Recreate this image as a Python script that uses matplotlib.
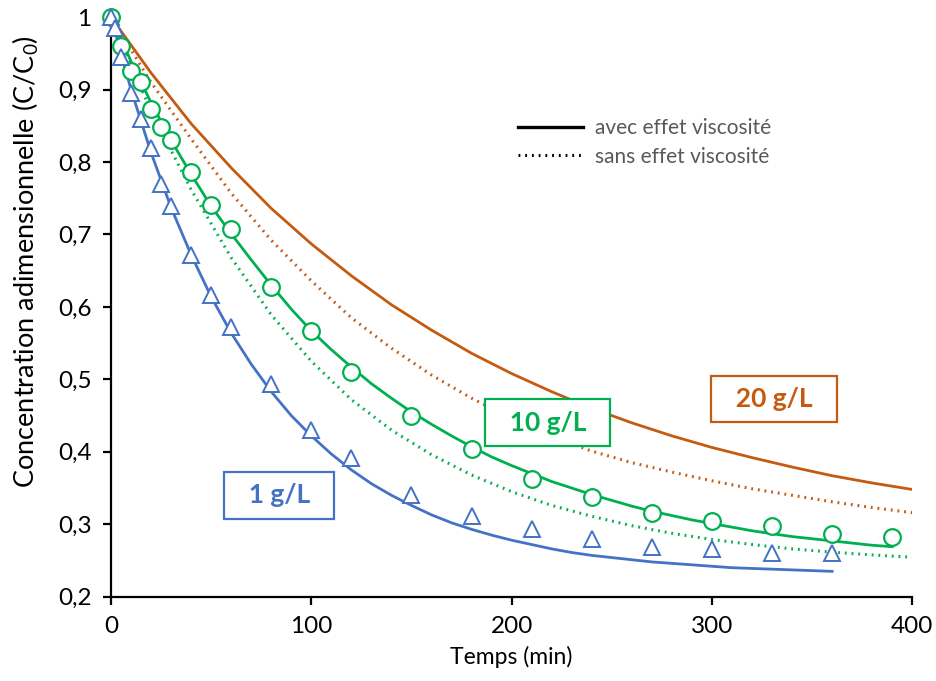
import matplotlib.pyplot as plt
from matplotlib.lines import Line2D
from matplotlib.ticker import FuncFormatter

plt.rcParams['font.family'] = ['Lato', 'DejaVu Sans']

# experimental points
t_1g = [0, 2, 5, 10, 15, 20, 25, 30, 40, 50, 60, 80, 100, 120, 150, 180, 210, 240, 270, 300, 330, 360]
c_1g = [1.0, 0.985, 0.945, 0.895, 0.86, 0.82, 0.77, 0.74, 0.672, 0.616, 0.572, 0.493, 0.43, 0.392,
        0.34, 0.312, 0.294, 0.28, 0.269, 0.266, 0.26, 0.26]
t_10g = [0, 5, 10, 15, 20, 25, 30, 40, 50, 60, 80, 100, 120, 150, 180, 210, 240, 270, 300, 330, 360, 390]
c_10g = [1.0, 0.96, 0.925, 0.91, 0.873, 0.848, 0.83, 0.786, 0.741, 0.707, 0.628, 0.567, 0.51,
         0.449, 0.404, 0.363, 0.338, 0.316, 0.304, 0.297, 0.287, 0.283]

# model curves (avec effet viscosite)
t_m1 = list(range(0, 370, 10))
c_m1 = [1.000, 0.900, 0.813, 0.737, 0.672, 0.614, 0.564, 0.521, 0.483, 0.450, 0.422, 0.397, 0.375,
        0.356, 0.340, 0.326, 0.313, 0.302, 0.293, 0.285, 0.278, 0.272, 0.266, 0.261, 0.257, 0.254,
        0.251, 0.248, 0.246, 0.244, 0.242, 0.240, 0.239, 0.238, 0.237, 0.236, 0.235]
t_m10 = list(range(0, 400, 10))
c_m10 = [1.000, 0.939, 0.882, 0.830, 0.783, 0.739, 0.701, 0.665, 0.630, 0.597, 0.567, 0.541, 0.517,
         0.494, 0.474, 0.455, 0.438, 0.422, 0.407, 0.393, 0.381, 0.370, 0.359, 0.350, 0.341, 0.333,
         0.325, 0.318, 0.312, 0.306, 0.301, 0.296, 0.291, 0.287, 0.283, 0.280, 0.277, 0.274, 0.271,
         0.269]
t_m20 = list(range(0, 420, 20))
c_m20 = [1.000, 0.923, 0.853, 0.792, 0.736, 0.687, 0.643, 0.603, 0.568, 0.536, 0.508, 0.483, 0.460,
         0.440, 0.422, 0.406, 0.392, 0.379, 0.367, 0.357, 0.348]

# model curves (sans effet viscosite)
t_s = list(range(0, 420, 20))
c_s10 = [1.000, 0.870, 0.762, 0.668, 0.589, 0.525, 0.472, 0.430, 0.396, 0.368, 0.345, 0.326, 0.311,
         0.298, 0.2875, 0.279, 0.272, 0.266, 0.2615, 0.2576, 0.2545]
c_s20 = [1.000, 0.910, 0.832, 0.757, 0.692, 0.636, 0.585, 0.543, 0.506, 0.474, 0.446, 0.421, 0.401,
         0.385, 0.372, 0.360, 0.349, 0.340, 0.331, 0.323, 0.316]

blue = '#4472C4'
green = '#00B050'
orange = '#C55A11'
dots = (0, (0.6, 1.6))

fig = plt.figure(figsize=(9.36, 6.81), dpi=100)
ax = fig.add_axes([0.1186, 0.1238, 0.856, 0.851])

ax.plot(t_s, c_s20, color=orange, lw=2.2, linestyle=dots, dash_capstyle='butt')
ax.plot(t_s, c_s10, color=green, lw=2.2, linestyle=dots, dash_capstyle='butt')
ax.plot(t_m20, c_m20, color=orange, lw=2.0)
ax.plot(t_m10, c_m10, color=green, lw=2.0)
ax.plot(t_m1, c_m1, color=blue, lw=2.0)

ax.plot(t_10g, c_10g, 'o', ms=12, mfc='white', mec=green, mew=1.6, clip_on=False, zorder=5)
ax.plot(t_1g, c_1g, '^', ms=11, mfc='white', mec=blue, mew=1.4, clip_on=False, zorder=6)

ax.set_xlim(0, 400)
ax.set_ylim(0.2, 1.0)
ax.set_xticks([0, 100, 200, 300, 400])
ax.set_yticks([0.2, 0.3, 0.4, 0.5, 0.6, 0.7, 0.8, 0.9, 1.0])
ax.yaxis.set_major_formatter(FuncFormatter(lambda v, p: '1' if abs(v - 1) < 1e-9 else ('%.1f' % v).replace('.', ',')))
for s in ['top', 'right']:
    ax.spines[s].set_visible(False)
for s in ['left', 'bottom']:
    ax.spines[s].set_linewidth(1.6)
ax.tick_params(axis='both', direction='out', length=6, width=1.6, labelsize=17.5, pad=8)

ax.set_xlabel('Temps (min)', fontsize=16.5, labelpad=6)
ax.set_ylabel('Concentration adimensionnelle (C/C$_\\mathregular{0}$)', fontsize=19.5)
ax.yaxis.set_label_coords(-0.087, 0.578)

box = dict(boxstyle='square,pad=0.43', fc='white', lw=1.6)
ax.text(84, 0.340, '  1 g/L  ', color=blue, fontsize=19, fontweight='bold', ha='center', va='center',
        bbox=dict(box, ec=blue))
ax.text(218, 0.440, '  10 g/L  ', color=green, fontsize=19, fontweight='bold', ha='center', va='center',
        bbox=dict(box, ec=green), zorder=7)
ax.text(331, 0.473, '  20 g/L  ', color=orange, fontsize=19, fontweight='bold', ha='center', va='center',
        bbox=dict(box, ec=orange))

handles = [Line2D([], [], color='black', lw=2.4),
           Line2D([], [], color='black', lw=2.2, linestyle=dots)]
leg = ax.legend(handles, ['avec effet viscosité', 'sans effet viscosité'], frameon=False,
                fontsize=15, handlelength=3.1, labelspacing=0.42, handletextpad=0.6,
                borderpad=0, borderaxespad=0, loc='upper left', bbox_to_anchor=(0.508, 0.826))
for txt in leg.get_texts():
    txt.set_color('#595959')

fig.savefig('out.png', dpi=100)
